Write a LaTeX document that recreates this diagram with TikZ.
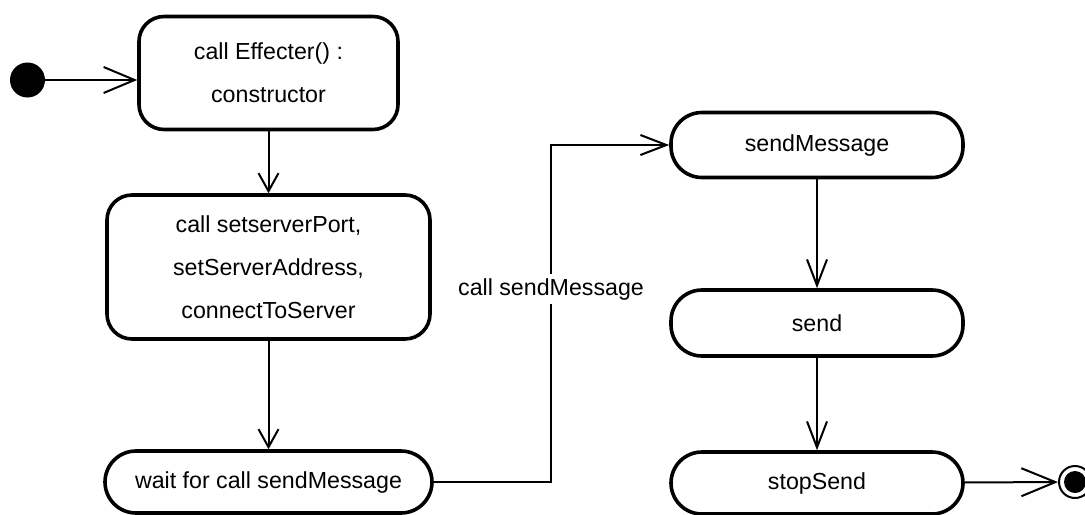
\documentclass[tikz,border=0pt]{standalone}
\usepackage{fontspec}
\setmainfont{Liberation Sans}
\usetikzlibrary{arrows.meta}
\begin{document}
\begin{tikzpicture}[x=0.5pt,y=-0.5pt,
  state/.style={draw=black,line width=1.8pt,fill=white,rounded corners=12.5pt,
    align=center,inner sep=0pt,font=\fontsize{11.6pt}{21.5pt}\selectfont},
  pill/.style={state,rounded corners=15.5pt},
  conn/.style={line width=1pt,-{Straight Barb[length=#1,width=10pt,line width=1pt]}},
  lbl/.style={fill=white,inner sep=2pt,font=\fontsize{11.6pt}{14pt}\selectfont}]
\useasboundingbox (0,0) rectangle (1085,514);
\node[circle,fill=black,minimum size=17.5pt,inner sep=0pt] (init) at (27.5,80) {};
\node[state,minimum width=129.5pt,minimum height=56.5pt] (b1) at (268.5,73) {call Effecter() :\\constructor};
\node[state,minimum width=161.5pt,minimum height=72pt] (b2) at (268.5,267) {call setserverPort,\\setServerAddress,\\connectToServer};
\node[pill,minimum width=163.5pt,minimum height=31pt] (b3) at (268.5,482) {wait for call sendMessage};
\node[pill,minimum width=146pt,minimum height=32.5pt] (sm) at (817,145) {sendMessage};
\node[pill,minimum width=146pt,minimum height=33pt] (sd) at (817,323) {send};
\node[pill,minimum width=146pt,minimum height=31pt] (st) at (817,483) {stopSend};
\node[circle,draw=black,line width=1pt,minimum size=16pt,inner sep=0pt] (fin) at (1075,482) {};
\node[circle,fill=black,minimum size=11pt,inner sep=0pt] (finin) at (fin.center) {};
\coordinate (kx) at (551,289);
\draw[line width=1pt,-{Straight Barb[length=15.5pt,width=13pt,line width=1pt]}] (init) -- (b1.west |- init);
\draw[conn=9pt] (b1) -- (b2);
\draw[conn=9pt] (b2) -- (b3);
\draw[conn=13pt] (b3.east) -| (kx) |- (sm.west);
\node[lbl] (lab) at (kx) {call sendMessage};
\draw[conn=13pt] (sm) -- (sd);
\draw[conn=13pt] (sd) -- (st);
\draw[line width=1pt,-{Straight Barb[length=17pt,width=14pt,line width=1pt]}] (st) -- (fin);
\end{tikzpicture}
\end{document}
